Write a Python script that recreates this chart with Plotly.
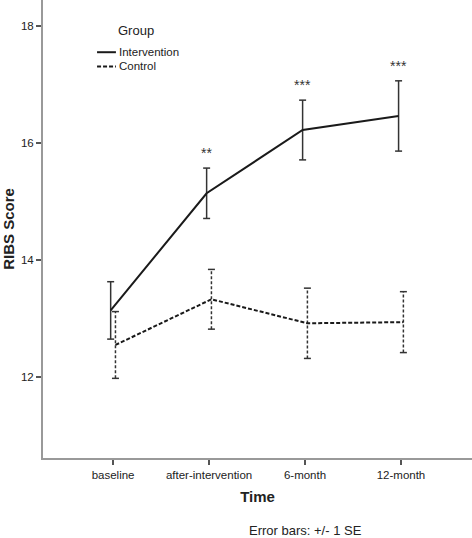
import plotly.graph_objects as go

# ---- data ----
time_labels = ["baseline", "after-intervention", "6-month", "12-month"]
intervention_mean = [13.14, 15.14, 16.22, 16.46]
intervention_se = [0.49, 0.43, 0.51, 0.60]
control_mean = [12.55, 13.33, 12.92, 12.94]
control_se = [0.57, 0.51, 0.60, 0.52]
significance = ["", "**", "***", "***"]
group_names = ["Intervention", "Control"]

offset = 0.025
xi = [i - offset for i in range(len(time_labels))]
xc = [i + offset for i in range(len(time_labels))]

FONT = "Liberation Sans, Arial, sans-serif"
DARK = "#1a1a1a"
CONTROL_DASH = "4px,2px"

fig = go.Figure()

def err_segments(xs, means, ses):
    ex, ey = [], []
    for x, m, s in zip(xs, means, ses):
        ex += [x, x, None]
        ey += [m - s, m + s, None]
    return ex, ey

# Intervention error bars
ex, ey = err_segments(xi, intervention_mean, intervention_se)
fig.add_trace(go.Scatter(x=ex, y=ey, mode="lines+markers", showlegend=False,
                         line=dict(color="#333333", width=1.5),
                         marker=dict(symbol="line-ew-open", size=5,
                                     line=dict(color="#333333", width=1.5)),
                         hoverinfo="skip"))
# Control error bars (dashed)
ex, ey = err_segments(xc, control_mean, control_se)
fig.add_trace(go.Scatter(x=ex, y=ey, mode="lines+markers", showlegend=False,
                         line=dict(color="#333333", width=1.5, dash="3px,2px"),
                         marker=dict(symbol="line-ew-open", size=5,
                                     line=dict(color="#333333", width=1.5)),
                         hoverinfo="skip"))

fig.add_trace(go.Scatter(x=xi, y=intervention_mean, mode="lines", name=group_names[0],
                         showlegend=False, line=dict(color=DARK, width=2)))
fig.add_trace(go.Scatter(x=xc, y=control_mean, mode="lines", name=group_names[1],
                         showlegend=False, line=dict(color=DARK, width=2, dash=CONTROL_DASH)))

for x, m, s, t in zip(xi, intervention_mean, intervention_se, significance):
    if t:
        fig.add_annotation(x=x, y=m + s, text=t, showarrow=False, yanchor="bottom",
                           yshift=5, font=dict(family=FONT, size=14, color="#333333"))

# ---- legend (drawn manually to match compact layout) ----
fig.add_annotation(xref="paper", yref="paper", x=0.17, y=0.934, xanchor="left", yanchor="middle",
                   text="Group", showarrow=False, font=dict(family=FONT, size=13, color="#222222"))
leg_y = [0.886, 0.855]
leg_dash = ["solid", CONTROL_DASH]
for name, yy, dsh in zip(group_names, leg_y, leg_dash):
    fig.add_shape(type="line", xref="paper", yref="paper", x0=0.126, x1=0.170, y0=yy, y1=yy,
                  line=dict(color=DARK, width=2, dash=dsh))
    fig.add_annotation(xref="paper", yref="paper", x=0.172, y=yy, xanchor="left", yanchor="middle",
                       text=name, showarrow=False, font=dict(family=FONT, size=11.5, color="#222222"))

fig.add_annotation(xref="paper", yref="paper", x=0.613, y=-0.179, text="Error bars: +/- 1 SE",
                   showarrow=False, font=dict(family=FONT, size=13, color="#222222"))

fig.update_layout(
    width=472, height=538,
    margin=dict(l=43, r=0, t=0, b=80),
    paper_bgcolor="white", plot_bgcolor="white",
    font=dict(family=FONT, color="#222222"),
    showlegend=False,
    xaxis=dict(range=[-0.73, 3.74], tickvals=list(range(len(time_labels))), ticktext=time_labels,
               showgrid=False, zeroline=False, showline=True, linecolor="#999999", linewidth=2,
               ticks="outside", ticklen=5, tickcolor="#555555", tickwidth=1.5,
               tickfont=dict(size=11.5, color="#222222"),
               title=dict(text="Time", font=dict(size=15, weight="bold"), standoff=12)),
    yaxis=dict(range=[10.62, 18.44], tickvals=[12, 14, 16, 18],
               showgrid=False, zeroline=False, showline=True, linecolor="#999999", linewidth=2,
               ticks="outside", ticklen=5, tickcolor="#555555", tickwidth=1.5,
               tickfont=dict(size=11.5, color="#222222"),
               title=dict(text="RIBS Score", font=dict(size=15, weight="bold"), standoff=9)),
)

fig.write_html("out.html", config={"displayModeBar": False},
               post_script="document.body.style.margin='0';")
